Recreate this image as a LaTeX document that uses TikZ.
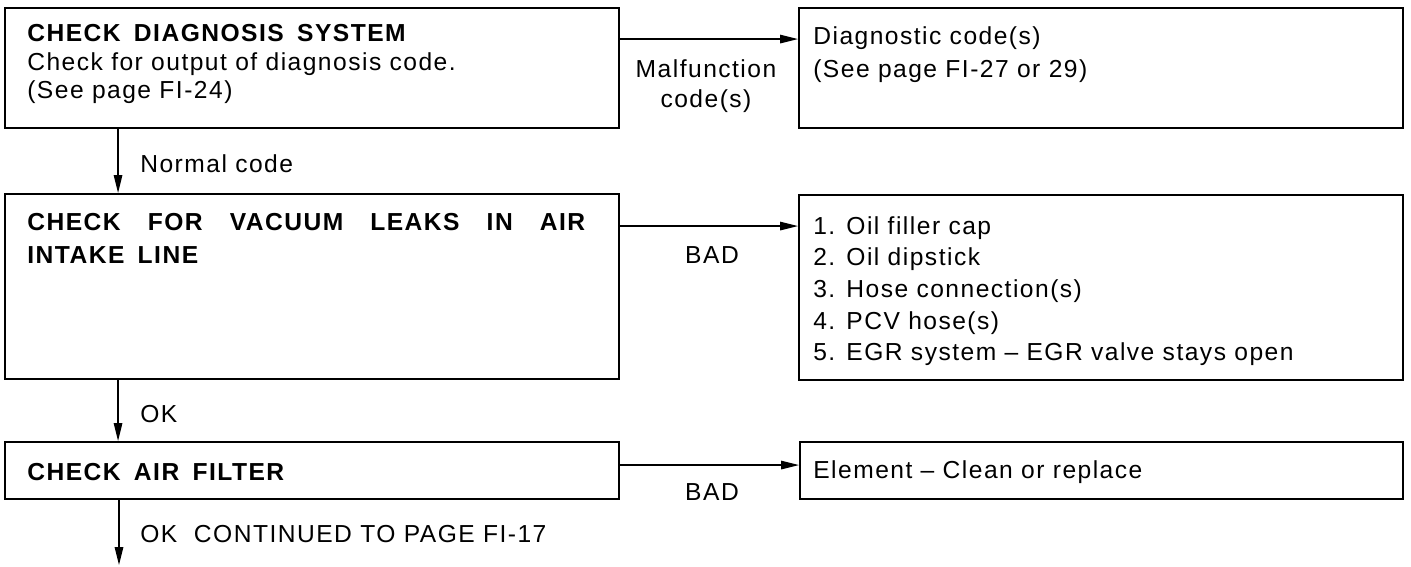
\documentclass[tikz,border=0pt]{standalone}
\usepackage{fontspec}
\setmainfont{Liberation Sans}[LetterSpace=6]
\newfontfamily\headfont{Liberation Sans}[LetterSpace=6,WordSpace=1.6]
\usetikzlibrary{calc, positioning, arrows.meta, fit}

\tikzset{
  box/.style={draw, line width=1.1pt, inner sep=0pt},
  flow/.style={line width=0.8pt, -{Triangle[length=0.36cm, width=0.17cm]}},
  txt/.style={inner sep=0pt, align=left, font=\fontsize{14}{18}\selectfont},
  head/.style={txt, font=\fontsize{14}{18.7}\selectfont\headfont\bfseries},
}

\begin{document}
\begin{tikzpicture}[x=0.02cm, y=-0.02cm]
\useasboundingbox (0,0) rectangle (1411,566);

% Draw the check boxes
\node[box, fit={(5,8) (619,128)}] (diag) {};
\node[box, fit={(5,194) (619,379)}] (vac) {};
\node[box, fit={(5,442) (619,499)}] (filt) {};

% Draw the result boxes
\node[box, fit={(799,8) (1403,128)}] (codes) {};
\node[box, fit={(799,195) (1403,380)}] (leaks) {};
\node[box, fit={(800,442) (1403,499)}] (elem) {};

% Texts in the boxes
\node[txt, anchor=north west, font=\fontsize{14}{16.3}\selectfont] (diagtxt) at (27,24)
  {{\headfont\bfseries CHECK DIAGNOSIS SYSTEM}\\Check for output of diagnosis code.\\(See page FI-24)};
\node[txt, anchor=north west, font=\fontsize{14}{18.7}\selectfont] (codestxt) at (813,26)
  {Diagnostic code(s)\\(See page FI-27 or 29)};
\node[head, anchor=north west] (vactxt) at (27,213)
  {\hbox to 11.16cm{CHECK\hfil FOR\hfil VACUUM\hfil LEAKS\hfil IN\hfil AIR}\\INTAKE LINE};
\node[txt, anchor=north west] (leakstxt) at (813,216)
  {1. Oil filler cap\\2. Oil dipstick\\3. Hose connection(s)\\4. PCV hose(s)\\5. EGR system \textendash{} EGR valve stays open};
\node[head, anchor=base west] (filttxt) at (27,480) {CHECK AIR FILTER};
\node[txt, anchor=base west] (elemtxt) at (813,478) {Element \textendash{} Clean or replace};

% Labels on the connectors
\node[txt, align=center, anchor=north, font=\fontsize{14}{17}\selectfont] (malf) at (706,59) {Malfunction\\code(s)};
\node[txt, anchor=base west] (normal) at (140,172) {Normal code};
\node[txt] (bad1) at (712,255) {BAD};
\node[txt, anchor=base west] (ok1) at (140,422) {OK};
\node[txt] (bad2) at (712,492) {BAD};
\node[txt, anchor=base west] (ok2) at (140,542) {OK\ \ CONTINUED TO PAGE FI-17};

% Connectors to the right
\draw[flow] ($(diag.north east)+(0,32)$) coordinate (m1) -- (m1 -| codes.west);
\draw[flow] ($(vac.north east)+(0,33)$) coordinate (m2) -- (m2 -| leaks.west);
\draw[flow] ($(filt.north east)+(0,24)$) coordinate (m3) -- (m3 -| elem.west);

% Connectors downwards
\draw[flow] ($(diag.south west)+(114,0)$) coordinate (d1) -- (d1 |- vac.north);
\draw[flow] ($(vac.south west)+(114,0)$) coordinate (d2) -- (d2 |- filt.north);
\coordinate (cont) at (119,565);
\draw[flow] (filt.south -| cont) -- (cont);
\end{tikzpicture}
\end{document}
